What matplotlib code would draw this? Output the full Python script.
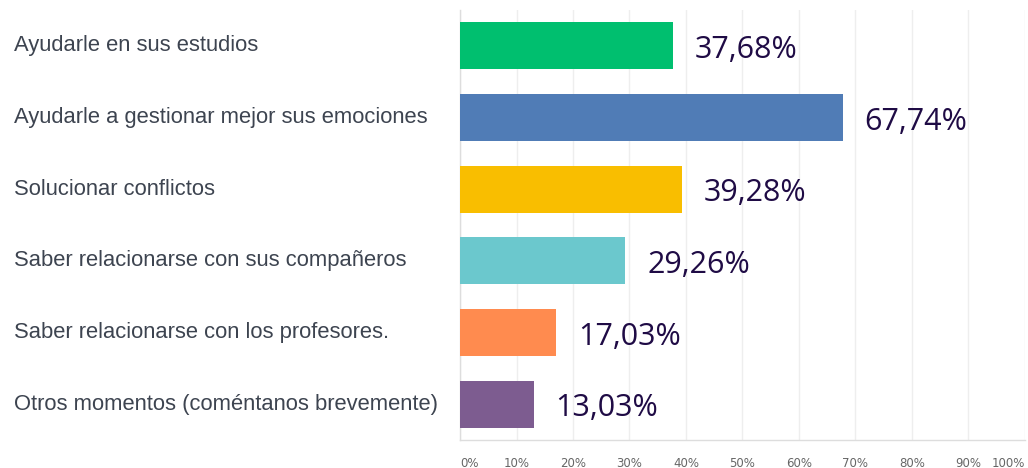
import matplotlib
matplotlib.use("Agg")
import matplotlib.pyplot as plt
import matplotlib.transforms as mtransforms

categories = [
    "Ayudarle en sus estudios",
    "Ayudarle a gestionar mejor sus emociones",
    "Solucionar conflictos",
    "Saber relacionarse con sus compañeros",
    "Saber relacionarse con los profesores.",
    "Otros momentos (coméntanos brevemente)",
]
values = [37.68, 67.74, 39.28, 29.26, 17.03, 13.03]
value_labels = ["37,68%", "67,74%", "39,28%", "29,26%", "17,03%", "13,03%"]
colors = ["#00BF6F", "#507CB6", "#F9BE00", "#6BC8CD", "#FF8B4F", "#7D5C90"]
ticks = list(range(0, 101, 10))
tick_labels = [f"{t}%" for t in ticks]

fig = plt.figure(figsize=(10.28, 4.68), dpi=100)
ax = fig.add_axes([0.4475, 0.0598, 0.5495, 0.9188])

ypos = list(range(len(values)))
ax.barh(ypos, values, height=0.655, color=colors, zorder=3)
ax.set_ylim(len(values) - 0.5, -0.5)
ax.set_xlim(0, 100)

ax.set_xticks(ticks)
ax.set_xticklabels(tick_labels, fontsize=8.5, color="#666666", family="DejaVu Sans")
lbls = ax.get_xticklabels()
lbls[0].set_ha("left")
lbls[-1].set_ha("right")
ax.tick_params(axis="x", length=0, pad=12)
ax.set_yticks([])
ax.grid(axis="x", color="#eeeeee", lw=1, zorder=0)

for s in ["top", "right"]:
    ax.spines[s].set_visible(False)
for s in ["left", "bottom"]:
    ax.spines[s].set_color("#dddddd")
    ax.spines[s].set_linewidth(1)

# value labels sit a touch below the bar centre in the original
for y, v, lab in zip(ypos, values, value_labels):
    ax.text(v + 3.9, y + 0.06, lab, va="center", ha="left", fontsize=22,
            color="#1F0B45", family="Open Sans", zorder=4)

trans = mtransforms.blended_transform_factory(fig.transFigure, ax.transData)
for y, cat in zip(ypos, categories):
    ax.text(0.014, y, cat, transform=trans, va="center", ha="left",
            fontsize=15.8, color="#3D4450", family="Liberation Sans")

fig.savefig("out.png", dpi=100)
